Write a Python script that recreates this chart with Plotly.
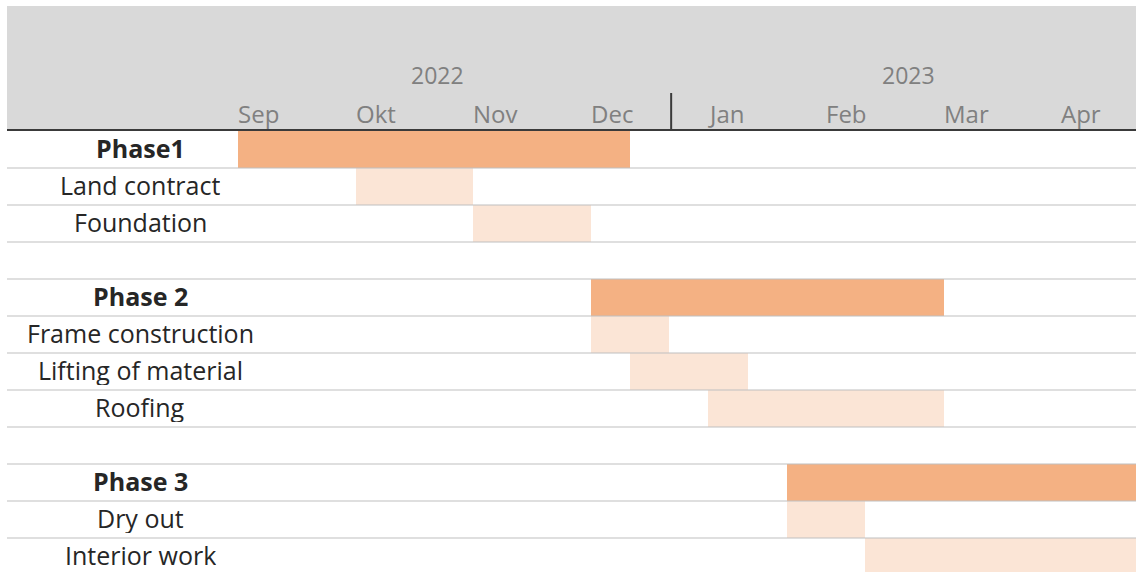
import plotly.graph_objects as go

# Schedule rows (empty strings are spacer rows between phases)
row_labels = ["Phase1", "Land contract", "Foundation", "",
              "Phase 2", "Frame construction", "Lifting of material", "Roofing", "",
              "Phase 3", "Dry out", "Interior work"]
# Start and length in planning periods (three periods per month, starting at Sep 2022)
start_period = [0, 3, 6, None, 9, 9, 10, 12, None, 14, 14, 16]
duration = [10, 3, 3, None, 9, 2, 3, 6, None, 9, 2, 7]
is_phase = [True, False, False, False, True, False, False, False, False, True, False, False]

month_labels = ["Sep", "Okt", "Nov", "Dec", "Jan", "Feb", "Mar", "Apr"]
year_labels = ["2022", "2023"]

W, H = 1136, 572
LEFT = 238          # width of the task-name column in px
HEADER = 131        # header height in px
ROW_H = 37          # row height in px
PERIOD_PX = 39.2    # width of one planning period in px

PHASE_COLOR = "#f4b183"
TASK_COLOR = "#fbe5d6"

fig = go.Figure()

for phase_flag, color in [(True, PHASE_COLOR), (False, TASK_COLOR)]:
    ys, xs, bases = [], [], []
    for i, (s, d, p) in enumerate(zip(start_period, duration, is_phase)):
        if s is None or p != phase_flag:
            continue
        ys.append(i)
        xs.append(d)
        bases.append(s)
    fig.add_trace(go.Bar(
        y=ys, x=xs, base=bases, orientation="h", width=1.0,
        marker=dict(color=color, line=dict(width=0)),
        hoverinfo="skip", showlegend=False,
    ))

n_rows_visible = (H - HEADER) / ROW_H
x_max = (W - LEFT) / PERIOD_PX

fig.update_layout(
    width=W, height=H,
    margin=dict(l=0, r=0, t=0, b=0),
    paper_bgcolor="white", plot_bgcolor="rgba(0,0,0,0)",
    barmode="overlay", bargap=0,
    xaxis=dict(domain=[LEFT / W, 1], range=[0, x_max], visible=False, fixedrange=True),
    yaxis=dict(domain=[0, (H - HEADER) / H], range=[n_rows_visible - 0.5, -0.5],
               visible=False, fixedrange=True),
    font=dict(family="Open Sans, Noto Sans, sans-serif"),
)

shapes = []
# grey header band
shapes.append(dict(type="rect", xref="paper", yref="paper",
                   x0=7 / W, x1=1, y0=(H - HEADER) / H, y1=(H - 6) / H,
                   fillcolor="#d9d9d9", line=dict(width=0), layer="below"))
# row separators
for k in range(len(row_labels) - 1):
    shapes.append(dict(type="line", xref="paper", yref="y",
                       x0=7 / W, x1=1, y0=k + 0.5, y1=k + 0.5,
                       line=dict(color="#c0c0c0", width=1.2), layer="above"))
# header bottom rule
shapes.append(dict(type="line", xref="paper", yref="paper",
                   x0=7 / W, x1=1, y0=(H - 130) / H, y1=(H - 130) / H,
                   line=dict(color="#3a3a3a", width=2)))
# year divider between Dec and Jan
shapes.append(dict(type="line", xref="x", yref="paper",
                   x0=11.05, x1=11.05, y0=(H - 130) / H, y1=(H - 93) / H,
                   line=dict(color="#3a3a3a", width=2)))
fig.update_layout(shapes=shapes)

annotations = []
for i, lab in enumerate(row_labels):
    if not lab:
        continue
    annotations.append(dict(
        text=f"<b>{lab}</b>" if is_phase[i] else lab,
        xref="paper", yref="y", x=140 / W, y=i, yshift=2,
        xanchor="center", yanchor="middle", showarrow=False,
        height=30, valign="middle", borderpad=0,
        font=dict(size=25, color="#262626"),
    ))
for m, lab in enumerate(month_labels):
    annotations.append(dict(
        text=lab, xref="x", yref="paper", x=3 * m, xshift=-2,
        y=(H - 113) / H, xanchor="left", yanchor="middle", showarrow=False,
        font=dict(size=24, color="#808080"),
    ))
for pos, lab in zip([5.1, 17.1], year_labels):
    annotations.append(dict(
        text=lab, xref="x", yref="paper", x=pos,
        y=(H - 75) / H, xanchor="center", yanchor="middle", showarrow=False,
        font=dict(size=23, color="#808080"),
    ))
fig.update_layout(annotations=annotations)

fig.write_html("out.html")
